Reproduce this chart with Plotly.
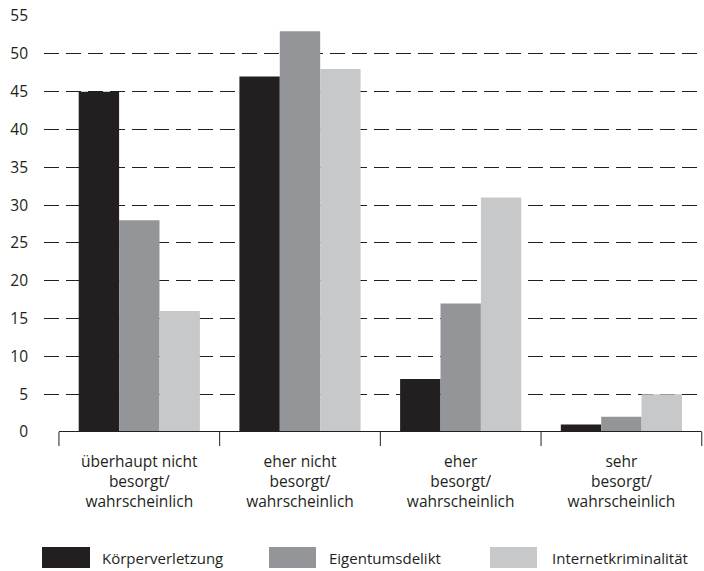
import plotly.graph_objects as go

categories = ["überhaupt nicht<br>besorgt/<br>wahrscheinlich",
              "eher nicht<br>besorgt/<br>wahrscheinlich",
              "eher<br>besorgt/<br>wahrscheinlich",
              "sehr<br>besorgt/<br>wahrscheinlich"]
series_names = ["Körperverletzung", "Eigentumsdelikt", "Internetkriminalität"]
koerperverletzung = [45, 47, 7, 1]
eigentumsdelikt = [28, 53, 17, 2]
internetkriminalitaet = [16, 48, 31, 5]
y_ticks = [0, 5, 10, 15, 20, 25, 30, 35, 40, 45, 50, 55]

colors = ["#231f20", "#939598", "#c7c8ca"]
FONT = "Open Sans"
TXT = "#231f20"
FS = 15.5

W, H = 704, 571
L, R, T, B = 44, 0, 16, 139
PW, PH = W - L - R, H - T - B

def px(x):
    return (x - L) / PW

def py(y):
    return (H - B - y) / PH

fig = go.Figure()
for name, vals, c in zip(series_names, [koerperverletzung, eigentumsdelikt, internetkriminalitaet], colors):
    fig.add_trace(go.Bar(x=list(range(len(categories))), y=vals, name=name,
                         marker=dict(color=c, line=dict(width=0)), showlegend=False))

fig.update_layout(
    width=W, height=H,
    margin=dict(l=L, r=R, t=T, b=B),
    paper_bgcolor="white", plot_bgcolor="white",
    barmode="group", bargap=0.246, bargroupgap=0,
    font=dict(family=FONT, size=FS, color=TXT),
    xaxis=dict(type="linear", range=[-0.593, 3.514],
               tickmode="array", tickvals=list(range(len(categories))), ticktext=categories,
               ticks="", showgrid=False, zeroline=False, showline=False,
               ticklabelstandoff=18,
               tickfont=dict(size=FS, color=TXT)),
    yaxis=dict(range=[0, 55], tickmode="array", tickvals=y_ticks,
               showgrid=True, gridcolor=TXT, gridwidth=1, griddash="15px,7px",
               zeroline=False, showline=False, ticks="", ticklabelstandoff=15,
               tickfont=dict(size=FS, color=TXT)),
)

# category boundary ticks and baseline
bounds = [i - 0.5 for i in range(len(categories) + 1)]
shapes = []
for b in bounds:
    shapes.append(dict(type="line", xref="x", yref="paper", x0=b, x1=b,
                       y0=0, y1=py(446), line=dict(color=TXT, width=1)))
shapes.append(dict(type="line", xref="x", yref="y", x0=bounds[0], x1=bounds[-1],
                   y0=0, y1=0, line=dict(color=TXT, width=2)))

# legend (manual swatches)
sw = [(42, 90, 100), (269, 316, 327), (490, 537, 550)]
annotations = []
for (x0, x1, tx), name, c in zip(sw, series_names, colors):
    shapes.append(dict(type="rect", xref="paper", yref="paper",
                       x0=px(x0), x1=px(x1), y0=py(568), y1=py(547),
                       fillcolor=c, line=dict(width=0)))
    annotations.append(dict(text=name, xref="paper", yref="paper", x=px(tx), y=py(558),
                            xanchor="left", yanchor="middle", showarrow=False,
                            font=dict(size=15, color=TXT, family=FONT)))

fig.update_layout(shapes=shapes, annotations=annotations)
fig.write_html("out.html", config={"displayModeBar": False},
               post_script="document.body.style.margin='0';document.body.style.overflow='hidden';")
